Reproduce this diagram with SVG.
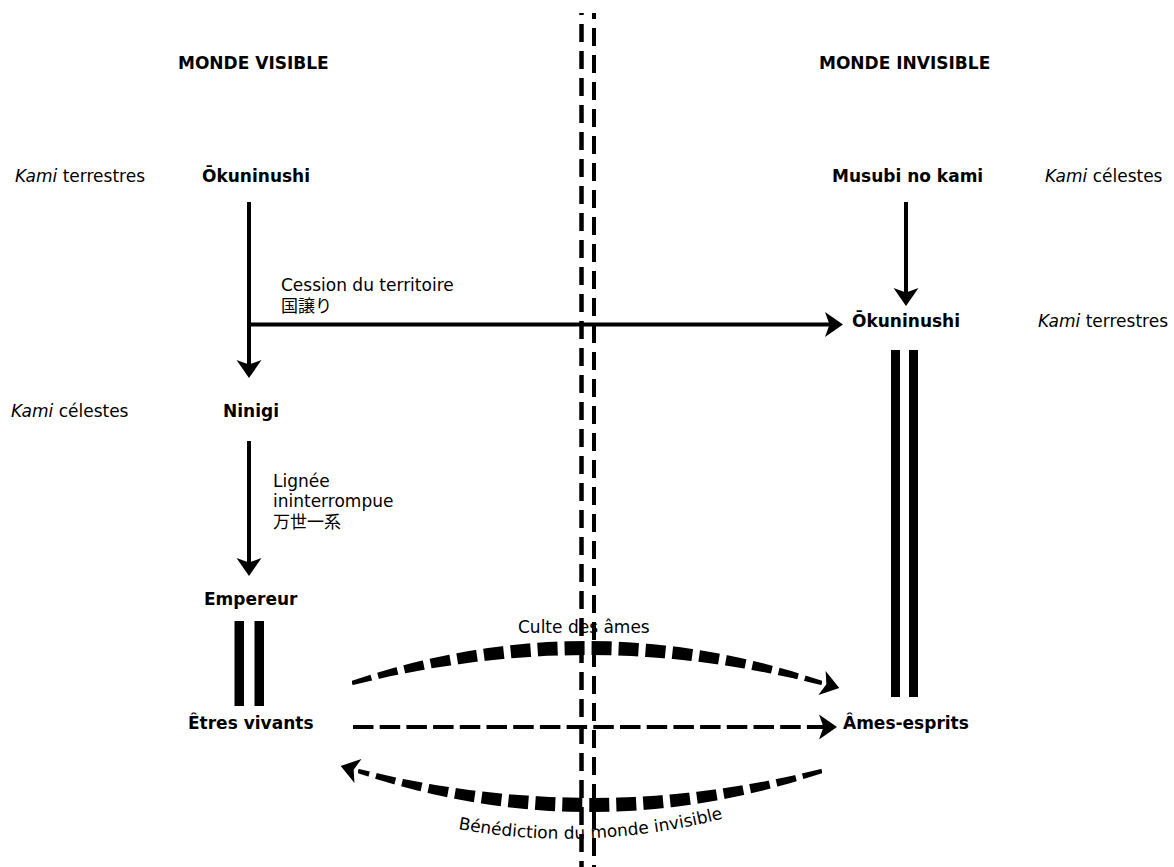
<svg xmlns="http://www.w3.org/2000/svg" xmlns:xlink="http://www.w3.org/1999/xlink" width="1174" height="867" viewBox="0 0 1174 867">
<style>
.b{font-family:"DejaVu Sans",Verdana,sans-serif;font-weight:bold;font-size:17px;fill:#000}
.r{font-family:"DejaVu Sans",Verdana,"Noto Sans CJK JP",sans-serif;font-size:17px;fill:#000}
.i{font-style:italic}
.ln{stroke:#000;stroke-width:4;fill:none}
.dl{stroke:#000;fill:none;stroke-width:4;stroke-dasharray:20.5 6.2}
.vd{stroke:#000;fill:none;stroke-dasharray:18 9}
.bar{fill:#000}
</style>
<defs>
<path id="ah" d="M0,0 L-18,-12.5 L-13.5,0 L-18,12.5 Z" fill="#000"/>
<mask id="m1" maskUnits="userSpaceOnUse" x="0" y="0" width="1174" height="867">
<path d="M352,683 Q587,613 822,683" stroke="#fff" stroke-width="24" fill="none" stroke-dasharray="20 7"/>
</mask>
<mask id="m2" maskUnits="userSpaceOnUse" x="0" y="0" width="1174" height="867">
<path d="M822,771 Q590,839 358,771" stroke="#fff" stroke-width="24" fill="none" stroke-dasharray="20 7"/>
</mask>
<path id="tp" d="M458,829 Q590,853 725,818"/>
</defs>
<rect width="1174" height="867" fill="#fff"/>

<g id="divider">
<line class="vd" x1="581.5" y1="13" x2="581.5" y2="867" stroke-width="4.5" stroke-dashoffset="16"/>
<line class="vd" x1="594" y1="13" x2="594" y2="867" stroke-width="4" stroke-dashoffset="12"/>
</g>

<g id="headers">
<text class="b" x="178" y="69">MONDE VISIBLE</text>
<text class="b" x="819" y="69">MONDE INVISIBLE</text>
</g>

<g id="side-labels">
<text class="r" x="15" y="182"><tspan class="i">Kami</tspan> terrestres</text>
<text class="r" x="11" y="417"><tspan class="i">Kami</tspan> célestes</text>
<text class="r" x="1045" y="182"><tspan class="i">Kami</tspan> célestes</text>
<text class="r" x="1038" y="327"><tspan class="i">Kami</tspan> terrestres</text>
</g>

<g id="node-okuninushi-left"><text class="b" x="202" y="182">Ōkuninushi</text></g>
<g id="node-ninigi"><text class="b" x="223" y="417">Ninigi</text></g>
<g id="node-empereur"><text class="b" x="204" y="605">Empereur</text></g>
<g id="node-etres"><text class="b" x="188" y="729">Êtres vivants</text></g>
<g id="node-musubi"><text class="b" x="832" y="182">Musubi no kami</text></g>
<g id="node-okuninushi-right"><text class="b" x="852" y="327">Ōkuninushi</text></g>
<g id="node-ames"><text class="b" x="843" y="729">Âmes-esprits</text></g>

<g id="connectors">
<line class="ln" x1="249" y1="202" x2="249" y2="366"/>
<use xlink:href="#ah" href="#ah" transform="translate(249,378) rotate(90)"/>
<line class="ln" x1="247" y1="324.5" x2="831" y2="324.5"/>
<use xlink:href="#ah" href="#ah" transform="translate(843,324.5)"/>
<line class="ln" x1="906" y1="202" x2="906" y2="294"/>
<use xlink:href="#ah" href="#ah" transform="translate(906,306)rotate(90)"/>
<line class="ln" x1="249" y1="441" x2="249" y2="564"/>
<use xlink:href="#ah" href="#ah" transform="translate(249,576) rotate(90)"/>
<rect class="bar" x="234.5" y="621" width="9.5" height="85"/>
<rect class="bar" x="254.5" y="621" width="9.5" height="85"/>
<rect class="bar" x="891" y="350" width="9" height="347"/>
<rect class="bar" x="909" y="350" width="9" height="347"/>
<path d="M352,680.75 Q587,601.25 822,680.75 L822,685.25 Q587,624.75 352,685.25 Z" fill="#000" mask="url(#m1)"/>
<use xlink:href="#ah" href="#ah" transform="translate(839.3,688.1) rotate(16.6)"/>
<line class="dl" x1="353" y1="727" x2="824" y2="727"/>
<use xlink:href="#ah" href="#ah" transform="translate(837,727)"/>
<path d="M822,768.75 Q590,827.25 358,768.75 L358,773.25 Q590,850.75 822,773.25 Z" fill="#000" mask="url(#m2)"/>
<use xlink:href="#ah" href="#ah" transform="translate(340.7,765.9) rotate(196.3)"/>
</g>

<g id="connector-labels">
<text class="r" x="281" y="291">Cession du territoire</text>
<text class="r" x="281" y="312">国譲り</text>
<text class="r" x="273" y="487">Lignée</text>
<text class="r" x="273" y="507">ininterrompue</text>
<text class="r" x="273" y="528">万世一系</text>
<text class="r" x="518" y="633">Culte des âmes</text>
<text class="r"><textPath xlink:href="#tp" href="#tp">Bénédiction du monde invisible</textPath></text>
</g>
</svg>
